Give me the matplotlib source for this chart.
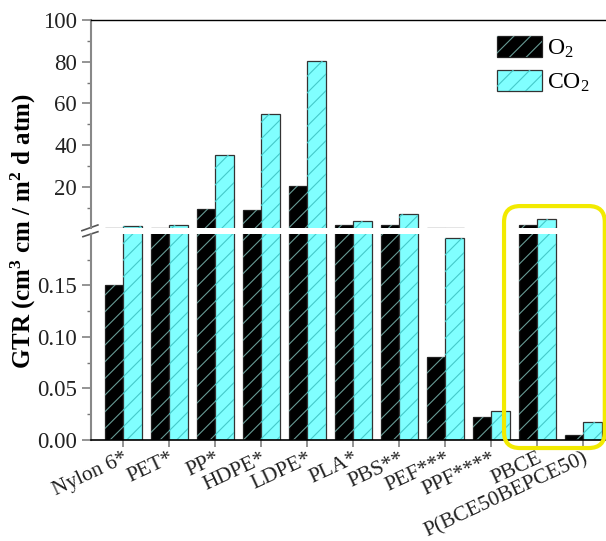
import matplotlib
matplotlib.use('Agg')
import matplotlib.pyplot as plt
import numpy as np
from matplotlib.patches import Patch, FancyBboxPatch
from matplotlib.ticker import FixedLocator

# %%
materials = ['Nylon 6*', 'PET*', 'PP*', 'HDPE*', 'LDPE*', 'PLA*', 'PBS**',
             'PEF***', 'PPF****', 'PBCE', 'P(BCE50BEPCE50)']
gtr_o2 = [0.15, 0.28, 9.5, 9.0, 20.2, 1.5, 1.5, 0.081, 0.022, 1.5, 0.005]
gtr_co2 = [1.2, 1.6, 35.3, 55.0, 80.3, 3.6, 7.0, 0.196, 0.028, 4.4, 0.017]
gas_labels = ['O$_2$', 'CO$_2$']

# %%
plt.rcParams['font.family'] = ['Liberation Serif', 'DejaVu Serif']
plt.rcParams['mathtext.default'] = 'regular'
plt.rcParams['hatch.linewidth'] = 0.8

fig = plt.figure(figsize=(6.06, 5.41), dpi=100)
ax_top = fig.add_axes([0.150, 0.5786, 0.848, 0.3845])
ax_bot = fig.add_axes([0.150, 0.1867, 0.848, 0.3808])

x = np.arange(len(materials))
w = 0.4
fills = ['black', '#80ffff']
edges = ['#222222', '#333333']
hatch_cols = ['#679a94', '#45c9c9']
series = [gtr_o2, gtr_co2]
offsets = [-w / 2, w / 2]

for ax in (ax_top, ax_bot):
    for vals, off, fc, ec, hc in zip(series, offsets, fills, edges, hatch_cols):
        ax.bar(x + off, vals, w, color=fc, edgecolor=ec, linewidth=0.9)
        ax.bar(x + off, vals, w, fill=False, edgecolor=hc, hatch='//', linewidth=0)
    ax.set_xlim(-0.7, 10.47)
    ax.spines['right'].set_visible(False)
    ax.spines['left'].set_color('#888888')
    ax.spines['left'].set_linewidth(1.5)
    ax.tick_params(axis='y', which='both', direction='out', colors='#777777',
                   labelcolor='#222222', labelsize=16.5)
    ax.tick_params(axis='y', which='major', length=6.5, width=1.1)
    ax.tick_params(axis='y', which='minor', length=3, width=1.0)

ax_top.set_ylim(0.3, 100)
ax_top.yaxis.set_major_locator(FixedLocator([20, 40, 60, 80, 100]))
ax_top.yaxis.set_minor_locator(FixedLocator([10, 30, 50, 70, 90]))
ax_top.spines['bottom'].set_visible(False)
ax_top.spines['top'].set_linewidth(1.0)
ax_top.tick_params(axis='x', which='both', bottom=False, labelbottom=False)

ax_bot.set_ylim(0, 0.2)
ax_bot.yaxis.set_major_locator(FixedLocator([0, 0.05, 0.10, 0.15]))
ax_bot.yaxis.set_minor_locator(FixedLocator([0.025, 0.075, 0.125, 0.175]))
ax_bot.set_yticklabels(['0.00', '0.05', '0.10', '0.15'])
ax_bot.spines['top'].set_visible(False)
ax_bot.spines['bottom'].set_linewidth(1.2)
ax_bot.set_xticks(x)
ax_bot.set_xticklabels(materials, rotation=25, ha='right', rotation_mode='anchor',
                       fontsize=15.5)
ax_bot.tick_params(axis='x', direction='out', length=5, width=1.1, colors='#777777',
                   labelcolor='#222222', pad=1.5)

# break marks on the left spine
kw = dict(color='#555555', lw=1.2, clip_on=False)
ax_top.plot([-0.0175, 0.0136], [-0.013, 0.0144], transform=ax_top.transAxes, **kw)
ax_bot.plot([-0.0155, 0.0136], [0.987, 1.011], transform=ax_bot.transAxes, **kw)

fig.text(0.039, 0.573, 'GTR (cm$^3$ cm / m$^2$ d atm)', rotation=90,
         ha='center', va='center', fontsize=18, fontweight='bold')

handles = [(Patch(facecolor=fc, edgecolor=ec, linewidth=0.9),
            Patch(fill=False, edgecolor=hc, hatch='//', linewidth=0))
           for fc, ec, hc in zip(fills, edges, hatch_cols)]
fig.legend(handles, gas_labels, loc='upper left',
           bbox_to_anchor=(0.82, 0.933), frameon=False, fontsize=17,
           handlelength=1.9, handleheight=0.95, handletextpad=0.2,
           labelspacing=0.45, borderpad=0, borderaxespad=0)

# highlight around the PBCE-based samples
fig.canvas.draw()
x0 = ax_bot.transData.transform((x[-2] - 0.72, 0))[0]
x1 = ax_bot.transData.transform((x[-1] + 0.47, 0))[0]
y0 = ax_bot.transData.transform((0, -0.0078))[1]
y1 = ax_top.transData.transform((0, 10.8))[1]
box = FancyBboxPatch((x0, y0), x1 - x0, y1 - y0,
                     boxstyle='round,pad=0,rounding_size=16',
                     fill=False, edgecolor='#f2ea00', linewidth=3,
                     transform=None, clip_on=False)
fig.add_artist(box)

fig.savefig('out.png', dpi=100)
